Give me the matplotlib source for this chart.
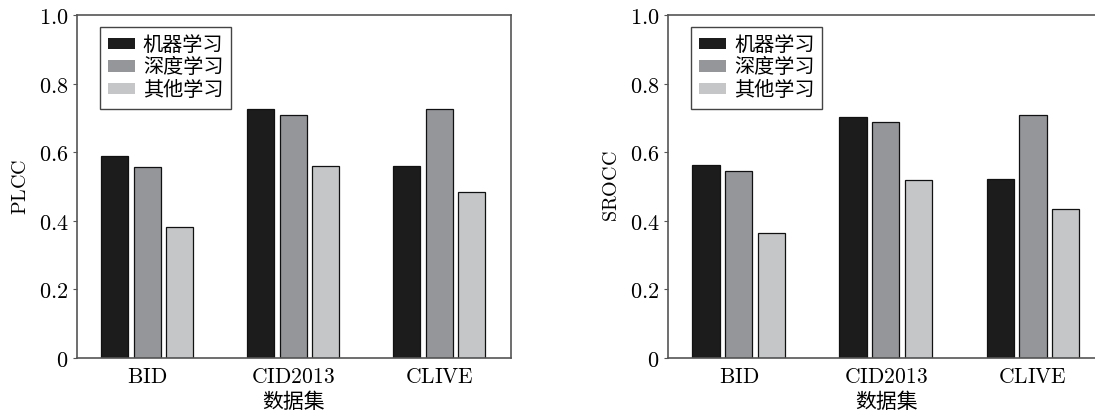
import matplotlib
matplotlib.use("Agg")
import matplotlib.pyplot as plt
import numpy as np

plt.rcParams['mathtext.fontset'] = 'cm'
plt.rcParams['font.family'] = ['Noto Sans CJK SC', 'DejaVu Sans']

datasets = ["BID", "CID2013", "CLIVE"]
methods = ["机器学习", "深度学习", "其他学习"]
plcc = [[0.589, 0.727, 0.561],
        [0.558, 0.707, 0.725],
        [0.382, 0.560, 0.485]]
srocc = [[0.564, 0.703, 0.523],
         [0.546, 0.689, 0.708],
         [0.365, 0.519, 0.435]]
colors = ["#1b1c1b", "#95969a", "#c5c6c8"]
yticks = [0, 0.2, 0.4, 0.6, 0.8, 1.0]
ytick_labels = ["0", "0.2", "0.4", "0.6", "0.8", "1.0"]

W, H = 1095, 418
fig = plt.figure(figsize=(W / 100, H / 100), dpi=100)
# axes boxes in pixels: left, right, top, bottom
boxes = [(77, 511, 15, 358), (668, 1105, 15, 358)]
panels = [("PLCC", plcc), ("SROCC", srocc)]
x = np.arange(len(datasets))
width = 0.185
step = 0.222

for (l, r, t, b), (name, vals) in zip(boxes, panels):
    ax = fig.add_axes([l / W, 1 - b / H, (r - l) / W, (b - t) / H])
    for i, (m, c) in enumerate(zip(methods, colors)):
        ax.bar(x + (i - 1) * step, vals[i], width, color=c, edgecolor="#111111",
               linewidth=0.9, label=m)
    ax.set_xlim(-0.48, 2.49)
    ax.set_ylim(0, 1.0)
    ax.set_yticks(yticks)
    ax.set_yticklabels([r"$\mathrm{" + s + "}$" for s in ytick_labels], fontsize=16)
    ax.set_xticks(x)
    ax.set_xticklabels([r"$\mathrm{" + s + "}$" for s in datasets], fontsize=15.5)
    ax.tick_params(axis="x", length=0, pad=6)
    ax.tick_params(axis="y", length=3, width=0.8, color="#555555", pad=3)
    for sp in ax.spines.values():
        sp.set_color("#555555")
        sp.set_linewidth(1.2)
    ax.set_ylabel(r"$\mathrm{" + name + "}$", fontsize=14.5, labelpad=6)
    ax.set_xlabel("数据集", fontsize=15, labelpad=2)
    leg = ax.legend(loc="upper left", bbox_to_anchor=(0.053, 0.965), fontsize=14.5,
                    fancybox=False, framealpha=1, edgecolor="#444444",
                    borderaxespad=0, handlelength=1.35, handleheight=0.5,
                    handletextpad=0.4, labelspacing=0.08, borderpad=0.38)
    leg.get_frame().set_linewidth(1.0)
    for h in leg.legend_handles:
        h.set_edgecolor("none")

fig.savefig("out.png", dpi=100)
